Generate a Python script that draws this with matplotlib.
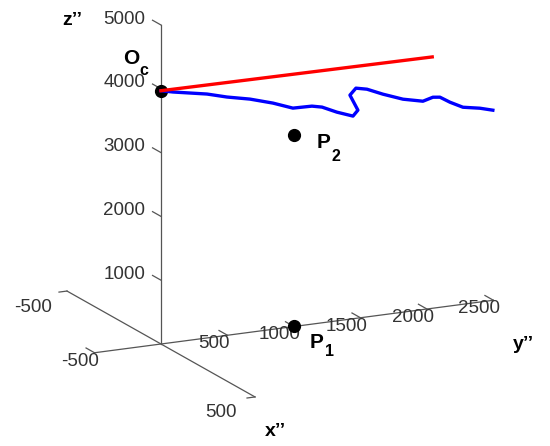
import numpy as np
import matplotlib
matplotlib.use("Agg")
import matplotlib.pyplot as plt
from mpl_toolkits.mplot3d import proj3d

plt.rcParams['font.family'] = ['Liberation Sans', 'DejaVu Sans']

# measured path in the y''-z'' plane (x'' = 0)
path_y = [0, 90, 218, 346, 496, 669, 842, 992, 1135, 1211, 1323, 1444, 1481,
          1421, 1466, 1549, 1669, 1820, 1970, 2045, 2098, 2173, 2271, 2398, 2496]
path_z = [3970, 3925, 3874, 3823, 3735, 3655, 3545, 3425, 3417, 3381, 3271, 3176, 3259,
          3511, 3608, 3569, 3458, 3338, 3265, 3307, 3293, 3194, 3088, 3038, 2980]

# straight ray from Oc
ray_y = [0, 2040]
ray_z = [3970, 3940]

# points Oc, P2, P1
pt_y = [0, 1000, 1000]
pt_z = [3970, 3000, 0]

x_ticks = [-500, 500]
y_ticks = [-500, 500, 1000, 1500, 2000, 2500]
z_ticks = [1000, 2000, 3000, 4000, 5000]

x_lim = (-500, 500)
y_lim = (-500, 2500)
z_lim = (0, 5000)

axis_col = '#555555'
tick_col = '#333333'
tick_fs = 13.5

fig = plt.figure(figsize=(5.5, 4.46), dpi=100)
ax = fig.add_axes([0, 0, 1, 1], projection='3d', proj_type='ortho', computed_zorder=False)
ax.view_init(elev=15.8, azim=-25.8)
ax.set_xlim(*x_lim)
ax.set_ylim(*y_lim)
ax.set_zlim(*z_lim)
ax.set_box_aspect((432, 443, 331.5))
ax.set_axis_off()

# axes through the origin
ax.plot(x_lim, [0, 0], [0, 0], color=axis_col, lw=0.9, zorder=1)
ax.plot([0, 0], y_lim, [0, 0], color=axis_col, lw=0.9, zorder=1)
ax.plot([0, 0], [0, 0], z_lim, color=axis_col, lw=0.9, zorder=1)

for t in x_ticks:
    ax.plot([t, t], [0, -60], [0, 0], color=axis_col, lw=0.9, zorder=1)
    ax.text(t, -256, -180, str(t), color=tick_col, fontsize=tick_fs, ha='center', va='center')
for t in y_ticks:
    ax.plot([0, -45], [t, t], [0, 0], color=axis_col, lw=0.9, zorder=1)
    ax.text(28, t - 145, -45, str(t), color=tick_col, fontsize=tick_fs, ha='center', va='center')
for t in z_ticks:
    ax.plot([0, -45], [0, 0], [t, t], color=axis_col, lw=0.9, zorder=1)
    ax.text(-85, 0, t - 50, str(t), color=tick_col, fontsize=tick_fs, ha='right', va='center')

# axis names
ax.text(-473, 0, 4290, 'z\u2019\u2019', fontsize=14, fontweight='bold', ha='center', va='center')
ax.text(606, 0, -360, 'x\u2019\u2019', fontsize=14, fontweight='bold', ha='center', va='center')
ax.text(0, 2729, -750, 'y\u2019\u2019', fontsize=14, fontweight='bold', ha='center', va='center')

# data
ax.plot(path_y, path_z, zs=0, zdir='x', color='#0000ff', lw=2.4, zorder=4)
ax.plot(ray_y, ray_z, zs=0, zdir='x', color='#ff0000', lw=2.4, zorder=4)
ax.plot(pt_y, pt_z, zs=0, zdir='x', ls='none', marker='o', ms=8.5, color='black', zorder=3)

# point names with subscripts
ax.text(-160, 0, 4216, 'O', fontsize=15, fontweight='bold', ha='center', va='center')
ax.text(-90, 0, 4144, 'c', fontsize=11.5, fontweight='bold', ha='center', va='center')
ax.text(0, 1222, 2821, 'P', fontsize=15, fontweight='bold', ha='center', va='center')
ax.text(0, 1316, 2583, '2', fontsize=11.5, fontweight='bold', ha='center', va='center')
ax.text(0, 1169, -299, 'P', fontsize=15, fontweight='bold', ha='center', va='center')
ax.text(0, 1271, -461, '1', fontsize=11.5, fontweight='bold', ha='center', va='center')

# place and scale the 3D box so the origin and z axis sit where they do in the figure
fig.canvas.draw()
W, H = 550, 446


def to_px(x, y, z):
    px, py, _ = proj3d.proj_transform(x, y, z, ax.get_proj())
    return np.array(ax.transData.transform((px, py)))


o = to_px(0, 0, 0)
top = to_px(0, 0, 5000)
target = np.array([161.0, H - 344.0])
f = 319.0 / np.hypot(*(top - o))
bb = ax.get_position()
c = np.array([(bb.x0 + bb.x1) / 2 * W, (bb.y0 + bb.y1) / 2 * H])
side = bb.width * W * f
nc = target - (o - c) * f
ax.set_position([(nc[0] - side / 2) / W, (nc[1] - side / 2) / H, side / W, side / H])

fig.savefig('out.png', dpi=100)
